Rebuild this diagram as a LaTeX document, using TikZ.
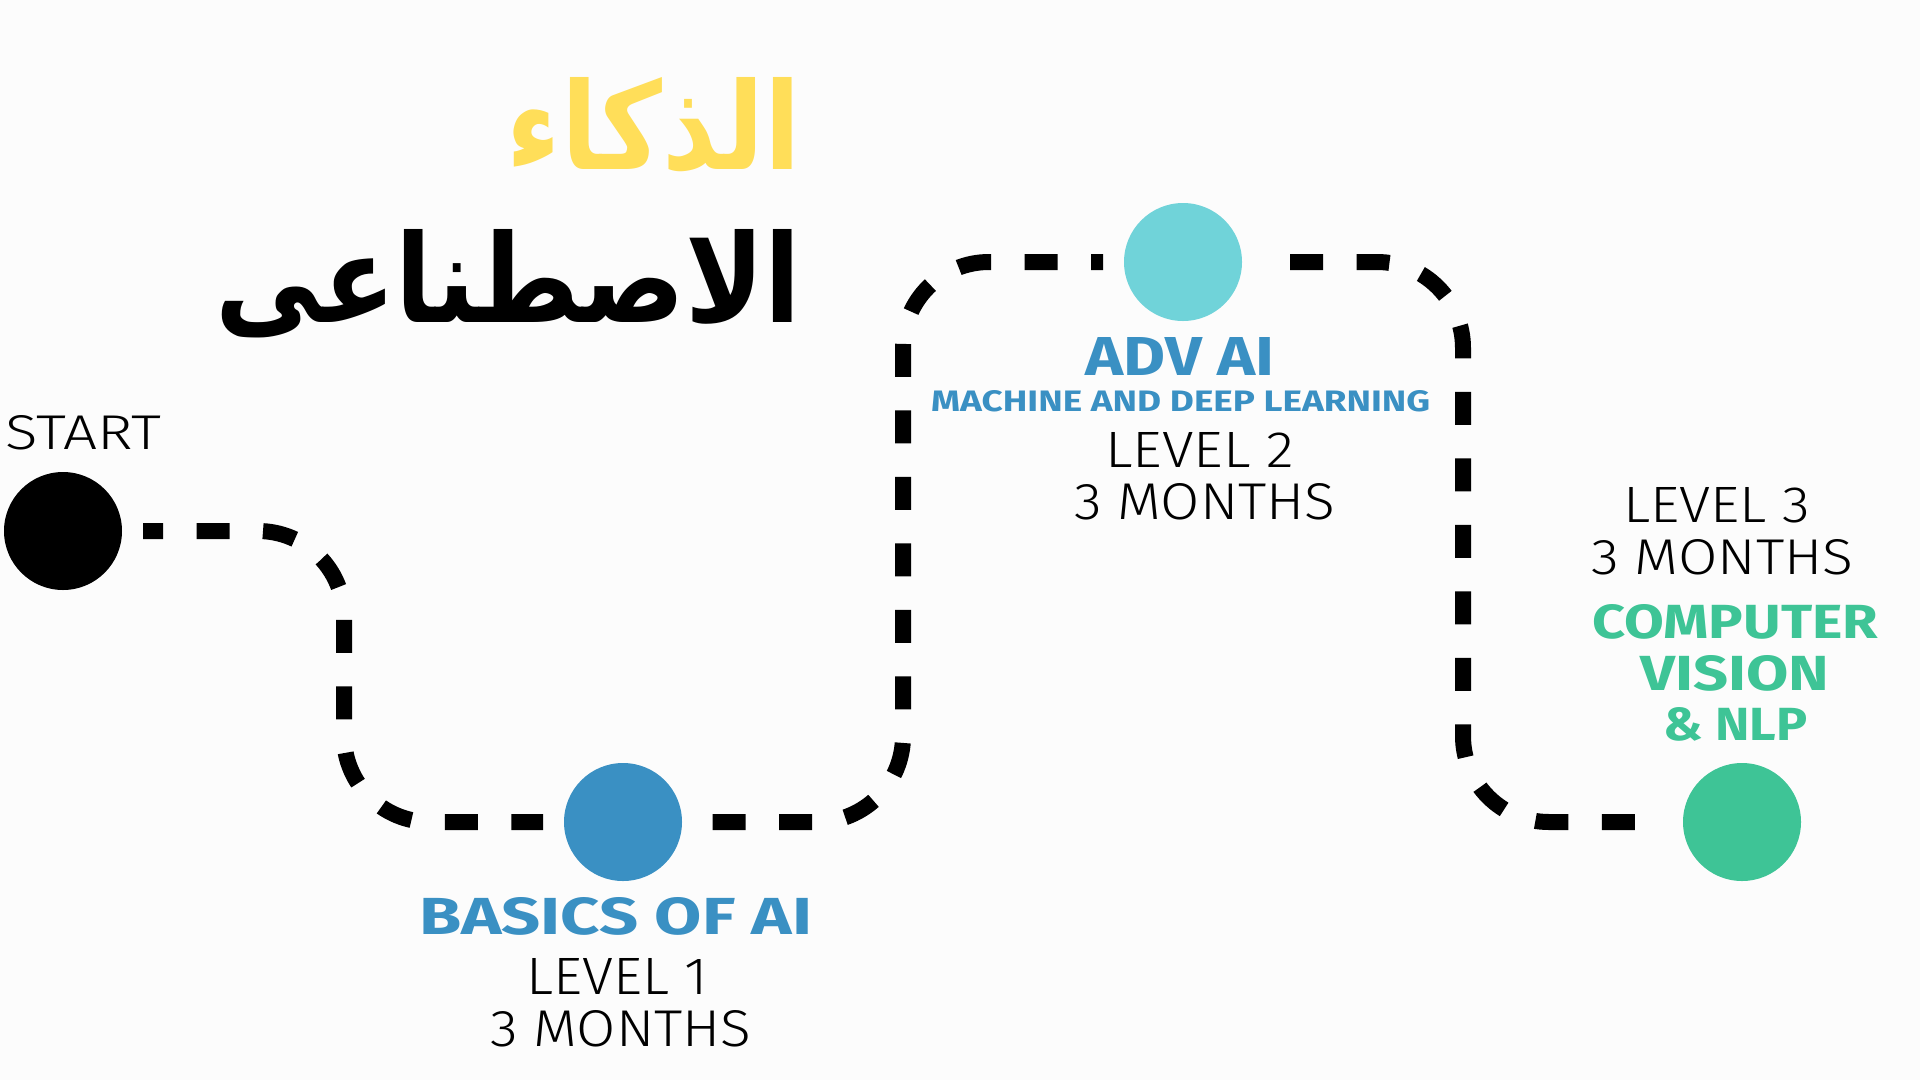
\documentclass[tikz,border=0pt]{standalone}
\usepackage{fontspec}
\usepackage{graphicx}
\setmainfont{Fira Sans}
\newfontfamily\lightf{Fira Sans Light}
\newfontfamily\arabicfont[Script=Arabic]{DejaVu Sans}
\TeXXeTstate=1
\definecolor{bgc}{HTML}{FCFCFC}
\definecolor{blu}{HTML}{3A90C3}
\definecolor{cya}{HTML}{70D3D9}
\definecolor{grn}{HTML}{3EC496}
\definecolor{yel}{HTML}{FFDE59}
\newcommand{\fitlight}[3]{\resizebox{#1pt}{#2pt}{\lightf #3}}
\newcommand{\fitbold}[3]{\resizebox{#1pt}{#2pt}{\bfseries #3}}
\begin{document}
\begin{tikzpicture}[x=1pt,y=-1pt,
  dot/.style={circle,inner sep=0pt,minimum size=118pt,draw=none},
  road/.style={line width=16pt,rounded corners=86pt,dash pattern=on 33pt off 33.5pt,shorten <=80pt,shorten >=80pt},
  lbl/.style={inner sep=0pt,anchor=base west},
]
\fill[bgc] (0,0) rectangle (1920,1080);
\useasboundingbox (0,0) rectangle (1920,1080);

% circle nodes
\node[dot] (st) at (63,531) {};
\node[dot] (b1) at (623,822) {};
\node[dot] (adv) at (1183,262) {};
\node[dot] (cv) at (1742,822) {};

% lower corners of the road
\coordinate (c1) at (344,822);
\coordinate (c2) at (903,822);
\coordinate (c3) at (1463,822);

% dashed road
\draw[road,dash phase=13pt] (st.center) -| (c1) -- (b1.center);
\draw[road,dash phase=21pt] (adv.center) -| (c2) -- (b1.center);
\draw[road,dash phase=39.5pt] (adv.center) -| (c3) -- (cv.center);

% circles on top
\fill[black] (st) circle (59pt);
\fill[blu] (b1) circle (59pt);
\fill[cya] (adv) circle (59pt);
\fill[grn] (cv) circle (59pt);

% Arabic title
\node[inner sep=0pt,anchor=base east,text=yel] (ar1) at (801,169)
  {\resizebox{294pt}{92pt}{\arabicfont\bfseries\beginR الذكاء\endR}};
\node[inner sep=0pt,anchor=base east,text=black] (ar2) at (801,322)
  {\resizebox{585pt}{93pt}{\arabicfont\bfseries\beginR الاصطناعى\endR}};

% labels
\node[lbl] (tstart) at (5,449) {\fitlight{156}{34}{START}};

\node[lbl,text=blu] (tb1) at (419,934) {\fitbold{393}{37}{BASICS OF AI}};
\node[lbl] (tl1) at (526,994) {\fitlight{182}{36}{LEVEL 1}};
\node[lbl] (tm1) at (490,1046) {\fitlight{261}{36}{3 MONTHS}};

\node[lbl,text=blu] (tadv) at (1085,375) {\fitbold{189}{38}{ADV AI}};
\node[lbl,text=blu] (tmdl) at (931,411) {\fitbold{499}{21}{MACHINE AND DEEP LEARNING}};
\node[lbl] (tl2) at (1105,467) {\fitlight{189}{35}{LEVEL 2}};
\node[lbl] (tm2) at (1074,519) {\fitlight{261}{36}{3 MONTHS}};

\node[lbl] (tl3) at (1623,522) {\fitlight{187}{35}{LEVEL 3}};
\node[lbl] (tm3) at (1591,574) {\fitlight{262}{35}{3 MONTHS}};
\node[lbl,text=grn] (tcv1) at (1592,638) {\fitbold{286}{34}{COMPUTER}};
\node[lbl,text=grn] (tcv2) at (1640,690) {\fitbold{189}{35}{VISION}};
\node[lbl,text=grn] (tcv3) at (1663,740) {\fitbold{144}{33}{\&~NLP}};
\end{tikzpicture}
\end{document}
